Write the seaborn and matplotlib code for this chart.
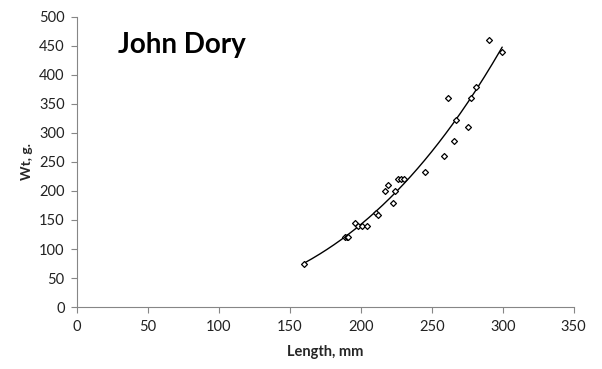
import numpy as np
import pandas as pd
import matplotlib
matplotlib.use("Agg")
import matplotlib.pyplot as plt
import seaborn as sns

length_mm = [160, 189, 190, 191, 196, 198, 201, 204, 211, 212, 216.7, 219, 222.4, 224, 226,
             228, 230.6, 245, 258.7, 261.7, 265.8, 267, 275.8, 277.7, 281.2, 290, 299.6]
weight_g = [74, 120, 120, 120, 145, 140, 140, 140, 162, 158, 200, 211, 180, 200, 220,
            220, 220, 232, 260, 360, 286, 322, 310, 360, 380, 460, 440]

x_ticks = [0, 50, 100, 150, 200, 250, 300, 350]
y_ticks = [0, 50, 100, 150, 200, 250, 300, 350, 400, 450, 500]

df = pd.DataFrame({"Length": length_mm, "Wt": weight_g})

# Power trendline (as in Excel): Wt = a * L^b
b, loga = np.polyfit(np.log(df["Length"]), np.log(df["Wt"]), 1)
xs = np.linspace(min(length_mm), max(length_mm), 200)
fit = pd.DataFrame({"Length": xs, "Wt": np.exp(loga) * xs ** b})

sns.set_style("white")
plt.rcParams["font.family"] = ["Lato", "DejaVu Sans"]

fig = plt.figure(figsize=(6.02, 3.69), dpi=100)
ax = fig.add_axes([0.128, 0.168, 0.825, 0.786])

sns.lineplot(data=fit, x="Length", y="Wt", ax=ax, color="black", linewidth=1.0)
sns.scatterplot(data=df, x="Length", y="Wt", ax=ax, marker="D", s=9,
                facecolor="white", edgecolor="black", linewidth=0.9, zorder=3)

ax.set_xlim(0, 350)
ax.set_ylim(0, 500)
ax.set_xticks(x_ticks)
ax.set_yticks(y_ticks)
ax.tick_params(axis="both", direction="out", length=4, width=0.8, color="#868686",
               labelsize=10.5, labelcolor="#222222", pad=5)
ax.tick_params(left=True, bottom=True)
for s in ["top", "right"]:
    ax.spines[s].set_visible(False)
for s in ["left", "bottom"]:
    ax.spines[s].set_color("#868686")
    ax.spines[s].set_linewidth(0.8)

ax.set_xlabel("Length, mm", fontsize=10.5, fontweight="bold", labelpad=8)
ax.set_ylabel("Wt, g.", fontsize=10, fontweight="bold", labelpad=4)
ax.text(0.083, 0.905, "John Dory", transform=ax.transAxes, fontsize=20,
        fontweight="bold", va="center", ha="left", color="black")

fig.savefig("out.png", dpi=100)
